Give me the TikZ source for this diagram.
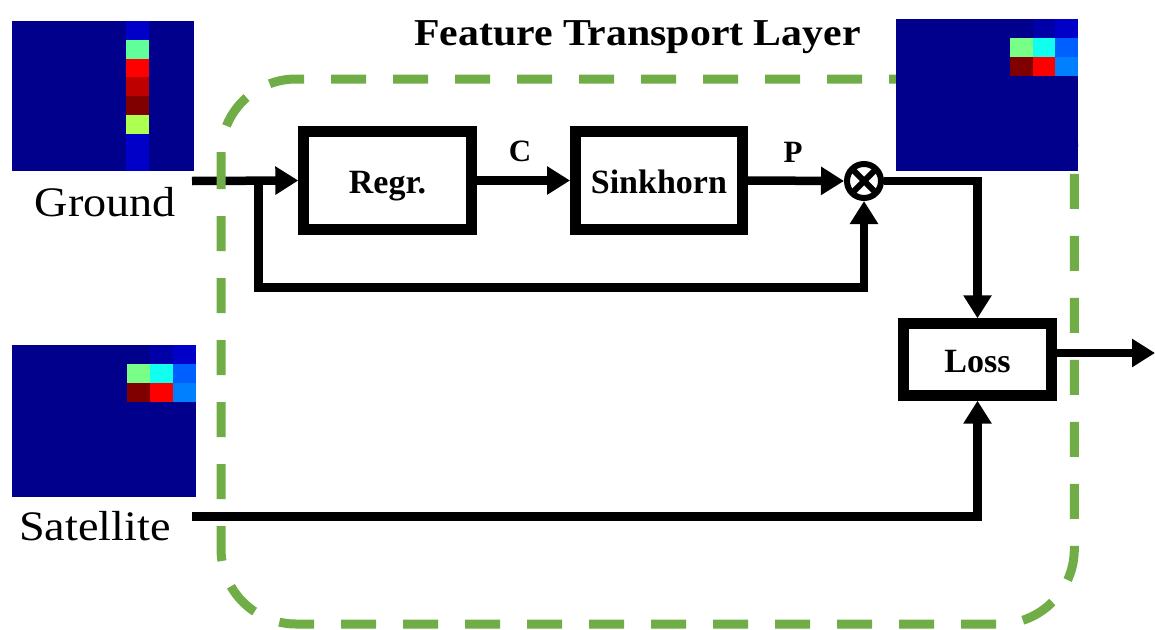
\documentclass[tikz,border=0pt]{standalone}
\usepackage{fontspec}
\setmainfont{Liberation Serif}
\usetikzlibrary{arrows.meta,calc}
\definecolor{hmbg}{RGB}{0,0,140}
\definecolor{hmblueA}{RGB}{0,0,168}
\definecolor{hmblueB}{RGB}{0,0,200}
\definecolor{hmgreen}{RGB}{96,255,154}
\definecolor{hmlgreen}{RGB}{120,255,136}
\definecolor{hmred}{RGB}{255,0,0}
\definecolor{hmdred}{RGB}{190,0,0}
\definecolor{hmmaroon}{RGB}{128,0,0}
\definecolor{hmyellow}{RGB}{173,255,80}
\definecolor{hmcyan}{RGB}{16,255,238}
\definecolor{hmsky}{RGB}{0,96,255}
\definecolor{hmsky2}{RGB}{0,128,255}
\definecolor{fgreen}{RGB}{112,173,71}
\begin{document}
\begin{tikzpicture}[x=1pt,y=-1pt,
  conn/.style={line width=8.5pt},
  arr/.style={conn,-{Triangle[length=23pt,width=27pt]}},
  box/.style={draw,line width=10.7pt,text height=25pt,text depth=0pt,inner sep=0pt,
    font=\fontsize{34}{40}\selectfont\bfseries},
  lbl/.style={inner sep=0pt,anchor=base},
  frame/.style={draw=fgreen,line width=9pt,dash pattern=on 35pt off 27pt,rounded corners=75pt}]
\useasboundingbox (0,0) rectangle (1155,629);

% blocks
\node[box,minimum width=167.7pt,minimum height=98pt] (regr) at (387.5,180.5) {Regr.};
\node[box,minimum width=167pt,minimum height=98pt] (sink) at (658.9,180.5) {Sinkhorn};
\node[box,minimum width=147.7pt,minimum height=71.7pt] (loss) at (977.5,359.5) {Loss};
\node[draw,circle,line width=6pt,minimum size=34pt,inner sep=0pt,
  path picture={\draw[line width=6pt]
    (path picture bounding box.north east)--(path picture bounding box.south west)
    (path picture bounding box.north west)--(path picture bounding box.south east);}]
  (otimes) at (864,181) {};

% coordinates
\coordinate (gin) at (192,181);
\coordinate (gsplit) at (258.3,181);
\coordinate (fb) at (258.3,287.5);
\coordinate (sin) at (192,516.7);
\coordinate (outp) at (1155,353);

% connectors
\draw[arr] (gin) -- (regr.west);
\draw[arr] (gsplit) -- (fb) -| (otimes.south);
\draw[arr] (regr.east) -- (sink.west);
\draw[arr] (sink.east) -- (otimes.west);
\draw[arr] (otimes.east) -| (loss.north);
\draw[arr] (sin) -| (loss.south);
\draw[arr] (loss.east |- outp) -- (outp);

% labels
\node[lbl,font=\fontsize{31}{36}\selectfont\bfseries] (clab) at (520,161) {C};
\node[lbl,font=\fontsize{31}{36}\selectfont\bfseries] (plab) at (793,162.5) {P};

% frame
\draw[frame] (221,79) rectangle (1074.3,624);

% ground heatmap
\fill[hmbg] (12,21) rectangle (194,171);
\fill[hmblueB] (125.75,21) rectangle (148.5,39.75);
\fill[hmgreen] (125.75,39.75) rectangle (148.5,58.5);
\fill[hmred] (125.75,58.5) rectangle (148.5,77.25);
\fill[hmdred] (125.75,77.25) rectangle (148.5,96);
\fill[hmmaroon] (125.75,96) rectangle (148.5,114.75);
\fill[hmyellow] (125.75,114.75) rectangle (148.5,133.5);
\fill[hmblueB] (125.75,133.5) rectangle (148.5,171);

% satellite heatmap
\fill[hmbg] (12,345) rectangle (196,497);
\fill[hmblueA] (150,345) rectangle (173,364);
\fill[hmblueB] (173,345) rectangle (196,364);
\fill[hmlgreen] (127,364) rectangle (150,383);
\fill[hmcyan] (150,364) rectangle (173,383);
\fill[hmsky] (173,364) rectangle (196,383);
\fill[hmmaroon] (127,383) rectangle (150,402);
\fill[hmred] (150,383) rectangle (173,402);
\fill[hmsky2] (173,383) rectangle (196,402);

% output heatmap
\fill[hmbg] (896,19) rectangle (1078,171);
\fill[hmblueA] (1032.5,19) rectangle (1055.25,38);
\fill[hmblueB] (1055.25,19) rectangle (1078,38);
\fill[hmlgreen] (1009.75,38) rectangle (1032.5,57);
\fill[hmcyan] (1032.5,38) rectangle (1055.25,57);
\fill[hmsky] (1055.25,38) rectangle (1078,57);
\fill[hmmaroon] (1009.75,57) rectangle (1032.5,76);
\fill[hmred] (1032.5,57) rectangle (1055.25,76);
\fill[hmsky2] (1055.25,57) rectangle (1078,76);

% texts
\node[lbl,font=\fontsize{38}{42}\selectfont\bfseries] (title) at (637.5,45)
  {\scalebox{1.1}[1]{Feature Transport Layer}};
\node[lbl,font=\fontsize{42}{46}\selectfont] (ground) at (105.3,216)
  {\scalebox{1.1}[1]{Ground}};
\node[lbl,font=\fontsize{42}{46}\selectfont] (sat) at (95,540)
  {\scalebox{1.1}[1]{Satellite}};
\end{tikzpicture}
\end{document}
